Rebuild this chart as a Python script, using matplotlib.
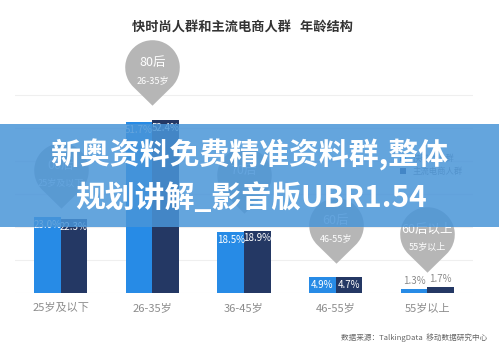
import numpy as np
import matplotlib
matplotlib.use('Agg')
import matplotlib.pyplot as plt
from matplotlib.path import Path
from matplotlib.patches import Rectangle

plt.rcParams['font.family'] = ['Noto Sans CJK SC', 'DejaVu Sans']

categories = ['25岁及以下', '26-35岁', '36-45岁', '46-55岁', '55岁以上']
fast_fashion = [23.0, 51.7, 18.5, 4.9, 1.3]
ecommerce = [22.3, 52.4, 18.9, 4.7, 1.7]
series_names = ['快时尚人群', '主流电商人群']
bubble_top = ['00后', '80后', '70后', '60后', '60后以上']
bubble_bottom = ['25岁及以下', '26-35岁', '', '46-55岁', '55岁以上']

title = '快时尚人群和主流电商人群   年龄结构'
banner_lines = ['新奥资料免费精准资料群,整体', '规划讲解_影音版UBR1.54']
source = '数据来源：TalkingData  移动数据研究中心'

light = '#278be6'
dark = '#243864'
grey = '#b6b6b6'

W, H = 499, 350
fig = plt.figure(figsize=(W / 100, H / 100), dpi=100)
fig.patch.set_facecolor('white')

px_per = 3.3  # pixels per percent
ymax = 88
ax = fig.add_axes([15 / W, 57 / H, 458 / W, px_per * ymax / H])
ax.set_xlim(-0.5, 4.5)
ax.set_ylim(0, ymax)
ax.axis('off')

for g in range(0, 61, 10):
    ax.axhline(g, color='#efefef', lw=0.8, zorder=0)

x = np.arange(len(categories))
bw = 0.29
ax.bar(x - bw / 2, fast_fashion, bw, color=light, zorder=2, label=series_names[0])
ax.bar(x + bw / 2, ecommerce, bw, color=dark, zorder=2, label=series_names[1])

for xs, vals in ((x - bw / 2, fast_fashion), (x + bw / 2, ecommerce)):
    for xi, v in zip(xs, vals):
        txt = f'{v:.1f}%'
        if v >= 10:
            ax.text(xi, v - 0.8, txt, ha='center', va='top', color='white',
                    fontsize=7, zorder=3)
        elif v >= 3:
            ax.text(xi, v / 2, txt, ha='center', va='center', color='white',
                    fontsize=7, zorder=3)
        else:
            ax.text(xi, v + 2.4, txt, ha='center', va='center', color='#8a8a8a',
                    fontsize=7, zorder=3)

for xi, c in zip(x, categories):
    ax.text(xi, -4.6, c, ha='center', va='center', color='#8c8c8c', fontsize=8)

# pin-shaped bubbles
d = 1.4
a = np.degrees(np.arccos(1 / d))
arc = Path.arc(-90 + a, 270 - a)
verts = np.vstack([[0, -d], arc.vertices, [0, -d]])
codes = [Path.MOVETO, Path.LINETO] + list(arc.codes[1:]) + [Path.CLOSEPOLY]
pin = Path(verts, codes)

bubble_y = [37.3, 68.5, 35.8, 20.6, 17.9]
for xi, yc, t1, t2 in zip(x, bubble_y, bubble_top, bubble_bottom):
    ax.plot(xi, yc, marker=pin, ms=55, color=grey, mec='none', zorder=4,
            clip_on=False)
    ax.text(xi, yc + 1.3, t1, ha='center', va='center', color='white',
            fontsize=9, zorder=5)
    if t2:
        ax.text(xi, yc - 4.0, t2, ha='center', va='center', color='white',
                fontsize=6.5, zorder=5)

ax.legend(frameon=False, loc='upper left', bbox_to_anchor=(392 / W, 1 - 146 / H),
          bbox_transform=fig.transFigure, fontsize=6, handlelength=0.8,
          handleheight=0.8, labelcolor='#888888')

fig.text(242 / W, 1 - 27 / H, title, ha='center', va='center', fontsize=9.5,
         fontweight='bold', color='#333333')
fig.text(487 / W, 1 - 338 / H, source, ha='right', va='center', fontsize=5.5,
         color='#666666')

# overlay banner
fig.patches.append(Rectangle((0, 1 - 227 / H), 1, 103 / H, transform=fig.transFigure,
                             facecolor=(73 / 255, 149 / 255, 216 / 255), alpha=0.85,
                             edgecolor='none', zorder=5))
fig.text(249 / W, 1 - 155 / H, banner_lines[0], ha='center', va='center',
         fontsize=21.5, fontweight='heavy', color='white', zorder=6)
fig.text(251 / W, 1 - 198 / H, banner_lines[1], ha='center', va='center',
         fontsize=21.5, fontweight='heavy', color='white', zorder=6)

fig.savefig('out.png', dpi=100, facecolor='white')
